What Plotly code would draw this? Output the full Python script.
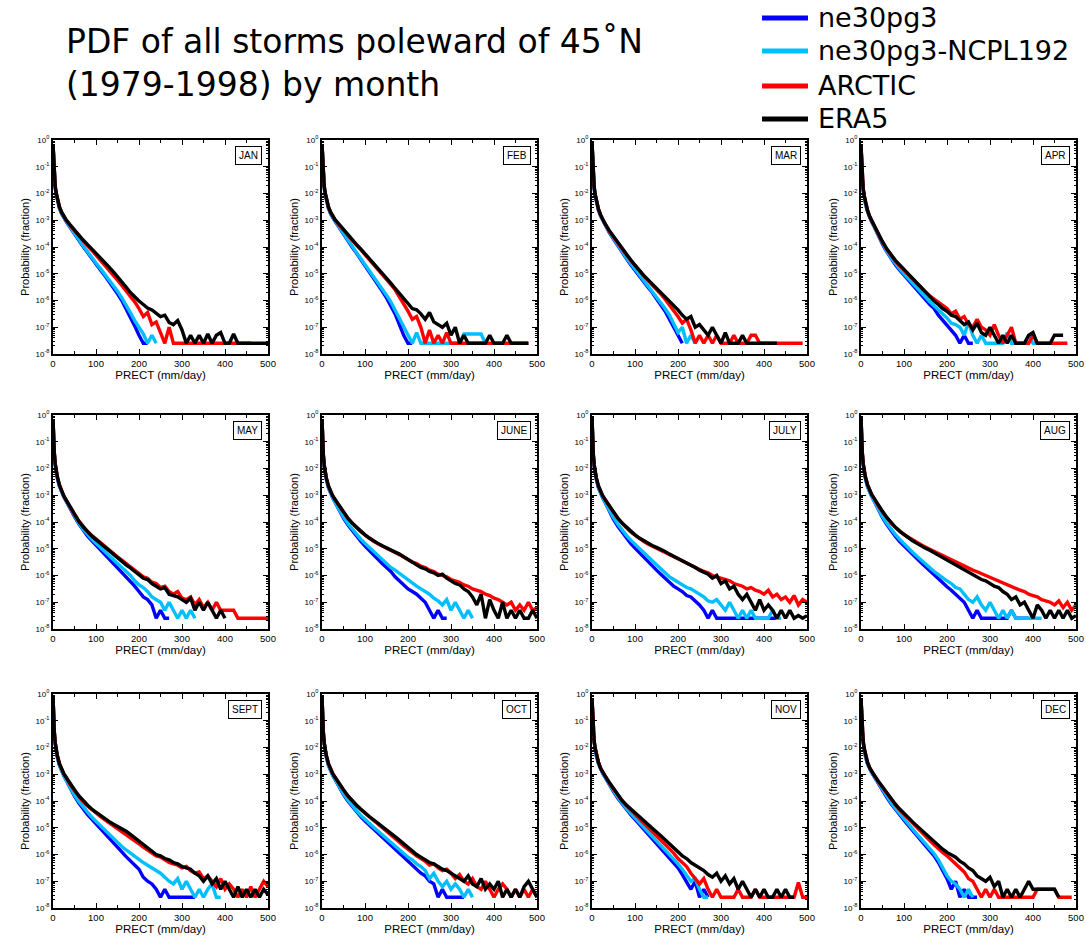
import plotly.graph_objects as go

W, H = 1086, 942

# precipitation bins (mm/day)
BINS = [0, 1, 2, 3, 5, 7, 10, 15, 20, 25, 30,
        40, 50, 60, 70, 80, 90, 100, 110, 120, 130, 140, 150, 160, 170, 180, 190, 200,
        210, 220, 230, 240, 250, 260, 270, 280, 290, 300, 310, 320, 330, 340, 350, 360,
        370, 380, 390, 400, 410, 420, 430, 440, 450, 460, 470, 480, 490, 500]

MONTHS = ["JAN", "FEB", "MAR", "APR", "MAY", "JUNE", "JULY", "AUG", "SEPT", "OCT", "NOV", "DEC"]
SERIES_NAMES = ["ne30pg3", "ne30pg3-NCPL192", "ARCTIC", "ERA5"]
SERIES_COLORS = ["#0000FF", "#00BFFF", "#FF0000", "#000000"]

# log10(probability) values on BINS
jan_ne30pg3 = [-0.15,-0.65,-1.05,-1.35,-1.75,-2.0,-2.25,-2.55,-2.76,-2.91,-3.03,
    -3.27,-3.52,-3.76,-3.98,-4.2,-4.43,-4.64,-4.85,-5.06,-5.28,-5.5,-5.75,-6.0,-6.3,-6.6,-6.95,-7.3,-7.6,-7.6]
jan_ncpl192 = [-0.15,-0.65,-1.05,-1.35,-1.75,-2.0,-2.25,-2.55,-2.75,-2.9,-3.02,
    -3.25,-3.5,-3.73,-3.95,-4.17,-4.4,-4.6,-4.8,-5.0,-5.2,-5.42,-5.65,-5.9,-6.15,-6.45,-6.75,-7.0,-7.25,-7.6,-7.3,-7.6]
jan_arctic = [-0.15,-0.6,-1.0,-1.3,-1.7,-1.95,-2.2,-2.5,-2.7,-2.86,-2.98,
    -3.2,-3.4,-3.6,-3.78,-3.95,-4.12,-4.3,-4.48,-4.66,-4.85,-5.04,-5.24,-5.44,-5.63,-5.85,-6.05,-6.3,-6.6,-6.45,-6.9,
    -6.8,-7.2,-7.6,-7.0,-7.6,-7.6,-7.6,-7.6,-7.6,-7.6,-7.6,-7.6,-7.6,-7.6,-7.6,-7.6,-7.6,-7.6,-7.6,-7.6,-7.6,-7.6,-7.6]
jan_era5 = [-0.15,-0.6,-1.0,-1.3,-1.7,-1.95,-2.2,-2.5,-2.7,-2.85,-2.97,
    -3.17,-3.37,-3.56,-3.74,-3.9,-4.06,-4.22,-4.4,-4.57,-4.74,-4.92,-5.1,-5.3,-5.5,-5.7,-5.88,-6.02,-6.15,-6.28,-6.35,
    -6.47,-6.6,-6.55,-6.82,-6.9,-6.75,-7.1,-7.6,-7.3,-7.6,-7.3,-7.6,-7.25,-7.6,-7.3,-7.2,-7.6,-7.6,-7.25,-7.6,-7.6,
    -7.6,-7.6,-7.6,-7.6,-7.6,-7.6]

feb_ne30pg3 = [-0.15,-0.65,-1.05,-1.35,-1.75,-2.0,-2.25,-2.55,-2.76,-2.91,-3.03,
    -3.27,-3.53,-3.77,-4.0,-4.23,-4.46,-4.69,-4.92,-5.15,-5.4,-5.65,-5.9,-6.2,-6.5,-6.9,-7.3,-7.6,-7.6]
feb_ncpl192 = [-0.15,-0.65,-1.05,-1.35,-1.75,-2.0,-2.25,-2.55,-2.75,-2.9,-3.02,
    -3.25,-3.5,-3.74,-3.97,-4.2,-4.43,-4.65,-4.88,-5.1,-5.33,-5.56,-5.8,-6.05,-6.35,-6.7,-7.0,-7.3,-7.6,-7.2,-7.6,
    -7.6,-7.6,-7.6,-7.6,-7.6,-7.6,-7.6,-7.6,-7.6,-7.25,-7.25,-7.25,-7.25,-7.25,-7.6]
feb_arctic = [-0.15,-0.6,-1.0,-1.3,-1.7,-1.95,-2.2,-2.5,-2.7,-2.86,-2.98,
    -3.18,-3.38,-3.58,-3.76,-3.93,-4.1,-4.28,-4.46,-4.64,-4.82,-5.0,-5.2,-5.4,-5.6,-5.85,-6.1,-6.4,-6.7,-6.6,-7.0,
    -7.6,-7.1,-7.6,-7.3,-7.6,-7.2,-7.6,-7.6,-7.6,-7.6,-7.6,-7.6,-7.6,-7.6,-7.6,-7.6,-7.6,-7.6,-7.6,-7.6,-7.6,-7.6,
    -7.6,-7.6,-7.6]
feb_era5 = [-0.15,-0.6,-1.0,-1.3,-1.7,-1.95,-2.2,-2.5,-2.7,-2.85,-2.97,
    -3.15,-3.35,-3.55,-3.72,-3.9,-4.07,-4.25,-4.43,-4.6,-4.78,-4.95,-5.15,-5.35,-5.55,-5.75,-5.95,-6.1,-6.3,-6.35,
    -6.5,-6.7,-6.45,-6.8,-6.9,-7.0,-6.85,-7.3,-7.0,-7.6,-7.3,-7.6,-7.6,-7.6,-7.6,-7.6,-7.3,-7.6,-7.6,-7.6,-7.3,
    -7.6,-7.6,-7.6,-7.6,-7.6]

mar_ne30pg3 = [-0.1,-0.65,-1.05,-1.4,-1.8,-2.05,-2.3,-2.62,-2.84,-3.0,-3.15,
    -3.45,-3.7,-3.96,-4.2,-4.43,-4.66,-4.88,-5.09,-5.3,-5.5,-5.7,-5.92,-6.15,-6.4,-6.7,-7.0,-7.3,-7.6]
mar_ncpl192 = [-0.1,-0.65,-1.05,-1.4,-1.8,-2.05,-2.3,-2.62,-2.84,-3.0,-3.15,
    -3.43,-3.68,-3.93,-4.17,-4.4,-4.62,-4.83,-5.04,-5.24,-5.44,-5.64,-5.85,-6.05,-6.3,-6.55,-6.9,-7.2,-7.0,-7.6,
    -7.3,-7.6]
mar_arctic = [-0.1,-0.6,-1.0,-1.35,-1.75,-2.0,-2.27,-2.58,-2.8,-2.98,-3.13,
    -3.4,-3.63,-3.88,-4.1,-4.3,-4.5,-4.7,-4.9,-5.08,-5.25,-5.42,-5.58,-5.76,-5.95,-6.15,-6.4,-6.6,-6.85,-6.7,-7.1,
    -7.6,-7.3,-7.6,-7.3,-7.6,-7.3,-7.6,-7.6,-7.6,-7.3,-7.6,-7.6,-7.6,-7.3,-7.3,-7.6,-7.6,-7.6,-7.6,-7.6,-7.6,-7.6,
    -7.6,-7.6,-7.6,-7.6]
mar_era5 = [-0.1,-0.6,-1.0,-1.35,-1.75,-2.0,-2.27,-2.58,-2.8,-2.97,-3.12,
    -3.38,-3.6,-3.86,-4.08,-4.28,-4.48,-4.68,-4.88,-5.06,-5.22,-5.38,-5.53,-5.7,-5.86,-6.03,-6.2,-6.35,-6.55,-6.7,
    -6.6,-7.0,-6.9,-7.1,-7.3,-7.0,-7.3,-7.6,-7.2,-7.6,-7.6,-7.6,-7.3,-7.6,-7.6,-7.6,-7.6,-7.6,-7.6,-7.6,-7.6]

apr_ne30pg3 = [-0.2,-0.75,-1.15,-1.45,-1.85,-2.1,-2.35,-2.67,-2.9,-3.07,-3.22,
    -3.57,-3.9,-4.18,-4.43,-4.66,-4.87,-5.06,-5.25,-5.44,-5.62,-5.8,-5.97,-6.15,-6.3,-6.55,-6.75,-6.9,-7.1,-7.3,
    -7.6,-7.3,-7.6,-7.6]
apr_ncpl192 = [-0.2,-0.75,-1.15,-1.45,-1.85,-2.1,-2.35,-2.67,-2.9,-3.07,-3.22,
    -3.55,-3.88,-4.16,-4.4,-4.62,-4.82,-5.0,-5.18,-5.36,-5.55,-5.72,-5.9,-6.05,-6.2,-6.35,-6.5,-6.65,-6.85,-6.9,
    -7.0,-7.3,-6.8,-7.3,-7.6,-7.3,-7.6,-7.6,-7.6,-7.6,-7.6,-7.2,-7.6,-7.6,-7.6,-7.6,-7.3,-7.6,-7.6]
apr_arctic = [-0.2,-0.7,-1.1,-1.4,-1.8,-2.05,-2.3,-2.62,-2.86,-3.03,-3.18,
    -3.5,-3.82,-4.1,-4.33,-4.53,-4.7,-4.87,-5.03,-5.2,-5.36,-5.52,-5.68,-5.83,-5.95,-6.05,-6.2,-6.3,-6.5,-6.4,
    -6.7,-6.6,-6.9,-7.0,-6.7,-7.0,-7.1,-7.3,-6.9,-7.3,-7.6,-7.3,-7.0,-7.6,-7.6,-7.6,-7.6,-7.3,-7.6,-7.6,-7.6,-7.6,
    -7.6,-7.6,-7.6,-7.6]
apr_era5 = [-0.2,-0.7,-1.1,-1.4,-1.8,-2.05,-2.3,-2.62,-2.85,-3.02,-3.17,
    -3.48,-3.8,-4.07,-4.3,-4.5,-4.67,-4.84,-5.0,-5.17,-5.33,-5.5,-5.67,-5.85,-6.02,-6.15,-6.3,-6.4,-6.55,-6.6,
    -6.75,-6.9,-6.8,-7.1,-6.85,-7.2,-7.3,-7.0,-7.3,-7.6,-7.3,-7.6,-7.3,-7.6,-7.6,-7.6,-7.3,-7.2,-7.6,-7.6,-7.6,
    -7.6,-7.3,-7.3,-7.3]

may_ne30pg3 = [-0.15,-0.75,-1.15,-1.45,-1.85,-2.1,-2.35,-2.66,-2.9,-3.06,-3.2,
    -3.52,-3.8,-4.07,-4.3,-4.52,-4.7,-4.87,-5.03,-5.2,-5.35,-5.52,-5.68,-5.85,-6.05,-6.2,-6.4,-6.6,-6.8,-6.9,
    -7.1,-7.6,-7.3,-7.6,-7.6]
may_ncpl192 = [-0.15,-0.75,-1.15,-1.45,-1.85,-2.1,-2.35,-2.66,-2.9,-3.06,-3.2,
    -3.5,-3.78,-4.04,-4.27,-4.47,-4.64,-4.8,-4.96,-5.1,-5.25,-5.4,-5.55,-5.7,-5.85,-6.0,-6.2,-6.35,-6.45,-6.6,
    -6.8,-6.9,-7.0,-7.3,-7.0,-7.3,-7.6,-7.3,-7.6,-7.3,-7.6]
may_arctic = [-0.15,-0.7,-1.1,-1.4,-1.8,-2.05,-2.3,-2.62,-2.85,-3.02,-3.16,
    -3.45,-3.72,-3.96,-4.17,-4.35,-4.5,-4.64,-4.78,-4.92,-5.05,-5.18,-5.3,-5.42,-5.55,-5.68,-5.8,-5.9,-6.05,-6.1,
    -6.25,-6.3,-6.45,-6.4,-6.6,-6.7,-6.6,-6.85,-6.9,-6.8,-7.1,-6.9,-7.2,-7.0,-7.3,-7.0,-7.3,-7.3,-7.3,-7.3,-7.6,
    -7.6,-7.6,-7.6,-7.6,-7.6,-7.6,-7.6]
may_era5 = [-0.15,-0.7,-1.1,-1.4,-1.8,-2.05,-2.3,-2.62,-2.85,-3.02,-3.16,
    -3.45,-3.72,-3.97,-4.18,-4.36,-4.52,-4.66,-4.8,-4.94,-5.08,-5.22,-5.35,-5.48,-5.6,-5.72,-5.85,-5.98,-6.1,-6.15,
    -6.3,-6.4,-6.5,-6.45,-6.7,-6.75,-6.8,-6.9,-7.0,-6.85,-7.3,-7.0,-7.3,-7.0,-7.3,-7.6,-7.3,-7.6]

jun_ne30pg3 = [-0.15,-0.75,-1.2,-1.5,-1.9,-2.15,-2.4,-2.72,-2.95,-3.1,-3.25,
    -3.58,-3.86,-4.1,-4.32,-4.53,-4.72,-4.9,-5.07,-5.23,-5.4,-5.55,-5.7,-5.85,-6.05,-6.2,-6.35,-6.5,-6.6,-6.7,
    -6.85,-7.0,-7.3,-7.6,-7.3,-7.6,-7.6]
jun_ncpl192 = [-0.15,-0.75,-1.2,-1.5,-1.9,-2.15,-2.4,-2.72,-2.95,-3.1,-3.25,
    -3.55,-3.82,-4.06,-4.27,-4.46,-4.64,-4.8,-4.95,-5.1,-5.25,-5.4,-5.55,-5.7,-5.8,-5.92,-6.05,-6.15,-6.3,-6.4,
    -6.5,-6.6,-6.7,-6.85,-6.95,-7.1,-6.9,-7.3,-7.0,-7.3,-7.6,-7.3,-7.6]
jun_arctic = [-0.15,-0.75,-1.15,-1.45,-1.85,-2.1,-2.35,-2.65,-2.88,-3.03,-3.15,
    -3.42,-3.64,-3.86,-4.05,-4.21,-4.36,-4.49,-4.61,-4.72,-4.81,-4.9,-4.98,-5.06,-5.14,-5.22,-5.32,-5.4,-5.5,-5.55,
    -5.65,-5.7,-5.8,-5.85,-5.95,-6.0,-6.05,-6.15,-6.2,-6.25,-6.35,-6.4,-6.5,-6.55,-6.6,-6.7,-6.75,-6.85,-6.9,-7.0,
    -7.1,-7.0,-7.3,-7.1,-7.3,-7.0,-7.3,-7.2]
jun_era5 = [-0.15,-0.75,-1.15,-1.45,-1.85,-2.1,-2.35,-2.65,-2.88,-3.03,-3.15,
    -3.4,-3.62,-3.85,-4.04,-4.2,-4.35,-4.48,-4.6,-4.71,-4.8,-4.89,-4.96,-5.03,-5.12,-5.2,-5.3,-5.4,-5.5,-5.6,
    -5.7,-5.75,-5.85,-5.9,-6.0,-5.95,-6.1,-6.2,-6.3,-6.35,-6.5,-6.6,-6.8,-7.1,-6.7,-7.6,-6.9,-7.3,-7.6,-7.0,-7.6,
    -7.3,-7.6,-7.3,-7.6,-7.6,-7.3,-7.6]

jul_ne30pg3 = [-0.1,-0.75,-1.2,-1.5,-1.9,-2.15,-2.4,-2.72,-2.95,-3.1,-3.25,
    -3.6,-3.9,-4.16,-4.39,-4.6,-4.8,-4.98,-5.15,-5.3,-5.45,-5.62,-5.8,-5.95,-6.1,-6.25,-6.4,-6.5,-6.6,-6.75,
    -6.8,-6.95,-7.1,-7.3,-7.6,-7.3,-7.6,-7.6,-7.6,-7.6,-7.6,-7.6,-7.6,-7.6,-7.6,-7.6,-7.6,-7.6,-7.6,-7.6,-7.6]
jul_ncpl192 = [-0.1,-0.75,-1.2,-1.5,-1.9,-2.15,-2.4,-2.72,-2.95,-3.1,-3.25,
    -3.56,-3.84,-4.08,-4.3,-4.5,-4.68,-4.84,-5.0,-5.15,-5.3,-5.45,-5.6,-5.75,-5.9,-6.05,-6.15,-6.25,-6.35,-6.45,
    -6.5,-6.6,-6.7,-6.8,-6.95,-7.0,-6.9,-7.1,-7.3,-7.0,-7.3,-7.6,-7.3,-7.6,-7.3,-7.6,-7.6,-7.6,-7.6,-7.3,-7.6,-7.6]
jul_arctic = [-0.1,-0.7,-1.15,-1.45,-1.85,-2.1,-2.35,-2.65,-2.88,-3.03,-3.15,
    -3.42,-3.64,-3.87,-4.06,-4.22,-4.37,-4.5,-4.62,-4.72,-4.82,-4.9,-4.97,-5.04,-5.12,-5.2,-5.28,-5.36,-5.44,-5.52,
    -5.6,-5.68,-5.75,-5.85,-5.9,-6.0,-6.05,-6.1,-6.15,-6.2,-6.3,-6.35,-6.4,-6.5,-6.45,-6.55,-6.6,-6.7,-6.55,-6.8,
    -6.7,-6.9,-6.8,-7.0,-6.75,-7.1,-6.9,-7.0]
jul_era5 = [-0.1,-0.7,-1.15,-1.45,-1.85,-2.1,-2.35,-2.65,-2.88,-3.03,-3.15,
    -3.4,-3.62,-3.85,-4.04,-4.2,-4.35,-4.48,-4.6,-4.7,-4.8,-4.88,-4.95,-5.02,-5.1,-5.2,-5.28,-5.37,-5.45,-5.55,
    -5.62,-5.7,-5.8,-5.88,-5.95,-6.1,-6.0,-6.3,-6.2,-6.5,-6.4,-6.7,-6.9,-6.7,-7.0,-7.3,-6.9,-7.3,-7.1,-7.3,-7.6,
    -7.3,-7.6,-7.3,-7.6,-7.5,-7.6,-7.5]

aug_ne30pg3 = [-0.1,-0.75,-1.15,-1.45,-1.85,-2.1,-2.35,-2.67,-2.9,-3.05,-3.2,
    -3.55,-3.84,-4.1,-4.33,-4.54,-4.73,-4.9,-5.06,-5.22,-5.37,-5.52,-5.67,-5.83,-6.0,-6.15,-6.3,-6.42,-6.55,-6.7,
    -6.85,-7.0,-7.3,-7.6,-7.3,-7.6,-7.6,-7.6,-7.6,-7.6,-7.6,-7.6,-7.3,-7.6,-7.6,-7.6,-7.6]
aug_ncpl192 = [-0.1,-0.75,-1.15,-1.45,-1.85,-2.1,-2.35,-2.67,-2.9,-3.05,-3.2,
    -3.52,-3.8,-4.05,-4.27,-4.47,-4.65,-4.82,-4.98,-5.13,-5.28,-5.43,-5.58,-5.72,-5.85,-5.97,-6.1,-6.2,-6.3,-6.45,
    -6.5,-6.7,-6.9,-7.0,-6.8,-7.1,-7.3,-7.0,-7.3,-7.6,-7.3,-7.6,-7.3,-7.6,-7.6,-7.6,-7.6,-7.6,-7.6,-7.6]
aug_arctic = [-0.1,-0.7,-1.1,-1.4,-1.8,-2.05,-2.3,-2.6,-2.83,-2.98,-3.1,
    -3.4,-3.63,-3.85,-4.04,-4.2,-4.34,-4.46,-4.57,-4.67,-4.76,-4.85,-4.94,-5.02,-5.1,-5.18,-5.26,-5.34,-5.42,-5.5,
    -5.58,-5.65,-5.72,-5.8,-5.86,-5.93,-6.0,-6.08,-6.15,-6.22,-6.3,-6.35,-6.42,-6.5,-6.55,-6.6,-6.7,-6.75,-6.8,-6.9,
    -6.95,-7.0,-7.1,-6.95,-7.2,-7.0,-7.3,-7.1]
aug_era5 = [-0.1,-0.7,-1.1,-1.4,-1.8,-2.05,-2.3,-2.6,-2.83,-2.98,-3.1,
    -3.37,-3.6,-3.83,-4.03,-4.2,-4.35,-4.48,-4.6,-4.7,-4.8,-4.9,-4.98,-5.06,-5.15,-5.25,-5.33,-5.42,-5.5,-5.6,
    -5.68,-5.78,-5.88,-5.98,-6.05,-6.15,-6.2,-6.3,-6.4,-6.45,-6.6,-6.7,-6.9,-6.8,-7.1,-7.0,-7.3,-7.6,-7.1,-7.3,
    -7.6,-7.3,-7.6,-7.3,-7.6,-7.3,-7.6,-7.5]

sep_ne30pg3 = [-0.1,-0.75,-1.15,-1.45,-1.85,-2.1,-2.35,-2.67,-2.9,-3.05,-3.2,
    -3.53,-3.82,-4.08,-4.3,-4.5,-4.68,-4.85,-5.02,-5.18,-5.35,-5.52,-5.7,-5.9,-6.08,-6.25,-6.4,-6.55,-6.85,-7.0,
    -7.1,-7.3,-7.6,-7.3,-7.6,-7.6,-7.6,-7.6,-7.6,-7.6,-7.6]
sep_ncpl192 = [-0.1,-0.75,-1.15,-1.45,-1.85,-2.1,-2.35,-2.67,-2.9,-3.05,-3.2,
    -3.5,-3.78,-4.02,-4.23,-4.42,-4.6,-4.76,-4.92,-5.08,-5.24,-5.4,-5.55,-5.7,-5.83,-5.95,-6.08,-6.2,-6.3,-6.4,
    -6.5,-6.6,-6.7,-6.85,-7.0,-7.1,-6.9,-7.3,-7.0,-7.3,-7.6,-7.3,-7.6,-7.3,-7.1,-7.6,-7.6]
sep_arctic = [-0.1,-0.7,-1.1,-1.4,-1.8,-2.05,-2.3,-2.6,-2.83,-2.98,-3.1,
    -3.4,-3.62,-3.84,-4.03,-4.19,-4.33,-4.46,-4.58,-4.7,-4.81,-4.92,-5.03,-5.13,-5.24,-5.36,-5.48,-5.6,-5.72,-5.84,
    -5.95,-6.05,-6.1,-6.2,-6.3,-6.35,-6.4,-6.5,-6.45,-6.6,-6.7,-6.65,-6.9,-6.8,-7.0,-7.2,-6.9,-7.3,-7.1,-7.3,-7.6,
    -7.3,-7.6,-7.2,-7.6,-7.3,-7.0,-7.2]
sep_era5 = [-0.1,-0.7,-1.1,-1.4,-1.8,-2.05,-2.3,-2.6,-2.83,-2.98,-3.1,
    -3.36,-3.58,-3.8,-4.0,-4.15,-4.3,-4.42,-4.54,-4.65,-4.76,-4.86,-4.95,-5.03,-5.13,-5.25,-5.37,-5.5,-5.62,-5.75,
    -5.88,-6.0,-6.05,-6.15,-6.2,-6.3,-6.35,-6.45,-6.5,-6.55,-6.7,-6.8,-7.0,-6.8,-7.1,-6.9,-7.3,-7.0,-7.3,-7.6,-7.2,
    -7.6,-7.3,-7.6,-7.3,-7.6,-7.3,-7.5]

oct_ne30pg3 = [-0.1,-0.75,-1.15,-1.45,-1.85,-2.1,-2.35,-2.67,-2.9,-3.05,-3.18,
    -3.49,-3.76,-4.0,-4.21,-4.4,-4.58,-4.75,-4.9,-5.05,-5.2,-5.35,-5.5,-5.65,-5.8,-5.95,-6.1,-6.25,-6.4,-6.55,
    -6.7,-6.8,-7.0,-7.1,-7.6,-7.3,-7.6,-7.6,-7.6,-7.6,-7.6]
oct_ncpl192 = [-0.1,-0.75,-1.15,-1.45,-1.85,-2.1,-2.35,-2.67,-2.9,-3.05,-3.18,
    -3.47,-3.73,-3.96,-4.17,-4.36,-4.53,-4.69,-4.84,-4.98,-5.12,-5.26,-5.4,-5.55,-5.7,-5.85,-5.97,-6.1,-6.2,-6.35,
    -6.45,-6.6,-6.9,-6.7,-7.0,-7.2,-7.0,-7.3,-7.1,-7.3,-7.6,-7.3,-7.6]
oct_arctic = [-0.1,-0.7,-1.1,-1.4,-1.8,-2.05,-2.3,-2.6,-2.83,-2.98,-3.1,
    -3.38,-3.6,-3.82,-4.02,-4.17,-4.32,-4.47,-4.6,-4.73,-4.86,-4.99,-5.12,-5.26,-5.4,-5.54,-5.68,-5.8,-5.95,-6.05,
    -6.15,-6.25,-6.4,-6.35,-6.5,-6.6,-6.55,-6.7,-6.9,-6.75,-7.0,-7.1,-6.9,-7.2,-7.3,-7.0,-7.3,-7.6,-7.3,-7.1,-7.3,
    -7.6,-7.3,-7.6,-7.3,-7.6,-7.3,-7.6]
oct_era5 = [-0.1,-0.7,-1.1,-1.4,-1.8,-2.05,-2.3,-2.6,-2.83,-2.98,-3.1,
    -3.36,-3.58,-3.8,-4.0,-4.15,-4.3,-4.45,-4.58,-4.7,-4.82,-4.94,-5.07,-5.2,-5.33,-5.46,-5.6,-5.75,-5.9,-6.0,
    -6.1,-6.2,-6.3,-6.35,-6.45,-6.55,-6.6,-6.7,-6.8,-6.9,-7.0,-6.8,-7.1,-7.2,-6.9,-7.3,-7.1,-7.3,-7.0,-7.6,-7.3,
    -7.6,-7.3,-7.6,-7.2,-7.0,-7.3,-7.6]

nov_ne30pg3 = [-0.15,-0.7,-1.1,-1.4,-1.8,-2.05,-2.3,-2.6,-2.82,-2.97,-3.1,
    -3.4,-3.65,-3.9,-4.12,-4.32,-4.51,-4.69,-4.87,-5.05,-5.22,-5.4,-5.57,-5.75,-5.93,-6.12,-6.3,-6.5,-6.75,-7.0,
    -7.3,-7.0,-7.6,-7.3,-7.6]
nov_ncpl192 = [-0.15,-0.7,-1.1,-1.4,-1.8,-2.05,-2.3,-2.6,-2.82,-2.97,-3.1,
    -3.38,-3.62,-3.86,-4.08,-4.28,-4.46,-4.63,-4.8,-4.97,-5.14,-5.3,-5.47,-5.63,-5.8,-5.97,-6.15,-6.35,-6.55,-6.8,
    -7.0,-6.9,-7.3,-7.6,-7.6]
nov_arctic = [-0.15,-0.65,-1.05,-1.35,-1.75,-2.0,-2.25,-2.55,-2.78,-2.93,-3.05,
    -3.32,-3.56,-3.8,-4.0,-4.18,-4.34,-4.5,-4.66,-4.82,-4.98,-5.14,-5.3,-5.45,-5.6,-5.78,-5.95,-6.15,-6.3,-6.45,
    -6.7,-6.9,-7.1,-6.9,-7.3,-7.6,-7.3,-7.6,-7.6,-7.6,-7.6,-7.3,-7.6,-7.6,-7.6,-7.3,-7.6,-7.6,-7.6,-7.6,-7.6,-7.6,
    -7.6,-7.6,-7.6,-7.05,-7.6,-7.6]
nov_era5 = [-0.15,-0.65,-1.05,-1.35,-1.75,-2.0,-2.25,-2.55,-2.78,-2.93,-3.05,
    -3.3,-3.53,-3.77,-3.98,-4.15,-4.3,-4.45,-4.6,-4.74,-4.88,-5.02,-5.16,-5.3,-5.45,-5.6,-5.75,-5.9,-6.05,-6.15,
    -6.3,-6.4,-6.5,-6.6,-6.75,-6.85,-6.7,-7.0,-6.8,-7.1,-6.9,-7.3,-7.0,-7.3,-7.6,-7.3,-7.6,-7.3,-7.6,-7.6,-7.3,
    -7.6,-7.3,-7.6,-7.6]

dec_ne30pg3 = [-0.15,-0.7,-1.1,-1.4,-1.8,-2.05,-2.3,-2.6,-2.8,-2.95,-3.07,
    -3.35,-3.61,-3.86,-4.1,-4.32,-4.53,-4.72,-4.91,-5.1,-5.29,-5.48,-5.67,-5.85,-6.05,-6.3,-6.6,-6.9,-7.3,-7.0,
    -7.6,-7.3,-7.6,-7.6,-7.6]
dec_ncpl192 = [-0.15,-0.7,-1.1,-1.4,-1.8,-2.05,-2.3,-2.6,-2.8,-2.95,-3.07,
    -3.33,-3.58,-3.83,-4.06,-4.28,-4.48,-4.67,-4.86,-5.05,-5.24,-5.42,-5.6,-5.78,-5.97,-6.2,-6.5,-6.8,-7.0,-7.1,
    -7.3,-7.6,-7.3,-7.6]
dec_arctic = [-0.15,-0.65,-1.05,-1.35,-1.75,-2.0,-2.25,-2.55,-2.75,-2.9,-3.02,
    -3.27,-3.5,-3.73,-3.95,-4.15,-4.33,-4.5,-4.67,-4.83,-5.0,-5.16,-5.32,-5.48,-5.64,-5.8,-5.92,-6.05,-6.2,-6.35,
    -6.5,-6.65,-6.9,-7.0,-7.3,-7.6,-7.3,-7.6,-7.3,-7.6,-7.6,-7.6,-7.6,-7.6,-7.6,-7.6,-7.6,-7.6,-7.3,-7.3,-7.3,
    -7.3,-7.3,-7.6,-7.6,-7.6,-7.6]
dec_era5 = [-0.15,-0.65,-1.05,-1.35,-1.75,-2.0,-2.25,-2.55,-2.75,-2.9,-3.02,
    -3.25,-3.47,-3.7,-3.92,-4.12,-4.3,-4.47,-4.63,-4.78,-4.93,-5.08,-5.22,-5.37,-5.52,-5.66,-5.8,-5.92,-6.0,-6.1,
    -6.25,-6.35,-6.5,-6.6,-6.8,-6.9,-7.0,-6.85,-7.2,-7.0,-7.6,-7.3,-7.6,-7.3,-7.6,-7.3,-7.0,-7.3,-7.3,-7.3,-7.3,
    -7.3,-7.3,-7.6]

PANEL_DATA = [
    [jan_ne30pg3, jan_ncpl192, jan_arctic, jan_era5],
    [feb_ne30pg3, feb_ncpl192, feb_arctic, feb_era5],
    [mar_ne30pg3, mar_ncpl192, mar_arctic, mar_era5],
    [apr_ne30pg3, apr_ncpl192, apr_arctic, apr_era5],
    [may_ne30pg3, may_ncpl192, may_arctic, may_era5],
    [jun_ne30pg3, jun_ncpl192, jun_arctic, jun_era5],
    [jul_ne30pg3, jul_ncpl192, jul_arctic, jul_era5],
    [aug_ne30pg3, aug_ncpl192, aug_arctic, aug_era5],
    [sep_ne30pg3, sep_ncpl192, sep_arctic, sep_era5],
    [oct_ne30pg3, oct_ncpl192, oct_arctic, oct_era5],
    [nov_ne30pg3, nov_ncpl192, nov_arctic, nov_era5],
    [dec_ne30pg3, dec_ncpl192, dec_arctic, dec_era5],
]

X_TICKS = [0, 100, 200, 300, 400, 500]
Y_EXPONENTS = [0, -1, -2, -3, -4, -5, -6, -7, -8]

# panel geometry in pixels
COL_LEFT = [53, 322, 592, 861]
PANEL_W = 215
ROW_TOP = [140, 415, 694]
PANEL_H = 214

# legend geometry in pixels
LEG_X0, LEG_X1, LEG_TEXT_X = 762, 808, 816
LEG_ROW_Y = [18, 51, 86, 119]

FONT = "Liberation Sans, Arial, Helvetica, sans-serif"
WIDE_FONT = "DejaVu Sans, Liberation Sans, Arial, sans-serif"

fig = go.Figure()
layout = dict(
    width=W, height=H,
    margin=dict(l=0, r=0, t=0, b=0, autoexpand=False),
    paper_bgcolor="white", plot_bgcolor="white",
    font=dict(family=FONT, color="black"),
    showlegend=False,
)
annotations = []
shapes = []

for i, month in enumerate(MONTHS):
    r, c = divmod(i, 4)
    k = i + 1
    xs = "" if k == 1 else str(k)
    x0 = COL_LEFT[c] / W
    x1 = (COL_LEFT[c] + PANEL_W) / W
    y1 = 1 - ROW_TOP[r] / H
    y0 = 1 - (ROW_TOP[r] + PANEL_H) / H
    for s in range(4):
        vals = PANEL_DATA[i][s]
        fig.add_trace(go.Scatter(
            x=BINS[:len(vals)], y=[10 ** v for v in vals],
            mode="lines", name=SERIES_NAMES[s],
            line=dict(color=SERIES_COLORS[s], width=3.4),
            xaxis="x" + xs, yaxis="y" + xs,
            showlegend=False, legendgroup=SERIES_NAMES[s],
            hoverinfo="skip",
        ))
    layout["xaxis" + xs] = dict(
        domain=[x0, x1], anchor="y" + xs, range=[0, 500], automargin=False,
        tickvals=X_TICKS, ticktext=[str(t) for t in X_TICKS],
        ticks="inside", ticklen=5, tickwidth=1, tickcolor="black",
        minor=dict(ticks="inside", ticklen=3, tickwidth=1, dtick=50, tickcolor="black", showgrid=False),
        showline=True, linewidth=2, linecolor="black", mirror="allticks",
        showgrid=False, zeroline=False,
        tickfont=dict(size=9.5),
        title=dict(text="PRECT (mm/day)", font=dict(size=11.5), standoff=3),
    )
    layout["yaxis" + xs] = dict(
        domain=[y0, y1], anchor="x" + xs, type="log", range=[-8, 0], automargin=False,
        tickvals=[10 ** e for e in Y_EXPONENTS],
        ticktext=["10<sup>%d</sup>" % e for e in Y_EXPONENTS],
        ticks="inside", ticklen=5, tickwidth=1, tickcolor="black",
        minor=dict(ticks="inside", ticklen=2, tickwidth=1, dtick="D1", tickcolor="black", showgrid=False),
        showline=True, linewidth=2, linecolor="black", mirror="allticks",
        showgrid=False, zeroline=False,
        tickfont=dict(size=8),
        title=dict(text="Probability (fraction)", font=dict(size=11), standoff=4),
    )
    annotations.append(dict(
        xref="x" + xs + " domain", yref="y" + xs + " domain",
        x=0.972, y=0.972, xanchor="right", yanchor="top",
        text=month, showarrow=False, font=dict(size=10, family=FONT),
        bordercolor="black", borderwidth=1, borderpad=3, bgcolor="white",
    ))

# legend drawn as line samples + labels
for s in range(4):
    yy = 1 - LEG_ROW_Y[s] / H
    shapes.append(dict(type="line", xref="paper", yref="paper",
                       x0=LEG_X0 / W, x1=LEG_X1 / W, y0=yy, y1=yy,
                       line=dict(color=SERIES_COLORS[s], width=5)))
    annotations.append(dict(xref="paper", yref="paper", x=LEG_TEXT_X / W, y=yy,
                            xanchor="left", yanchor="middle", text=SERIES_NAMES[s],
                            showarrow=False, font=dict(size=27, family=WIDE_FONT)))

annotations.append(dict(
    xref="paper", yref="paper", x=64 / W, y=1 - 20 / H, xanchor="left", yanchor="top",
    text="PDF of all storms poleward of 45˚N<br>(1979-1998) by month",
    align="left", showarrow=False, font=dict(size=33, family=WIDE_FONT),
))
layout["annotations"] = annotations
layout["shapes"] = shapes
fig.update_layout(**layout)
fig.write_html("out.html", config={"displayModeBar": False},
               post_script="document.body.style.margin='0px';")
